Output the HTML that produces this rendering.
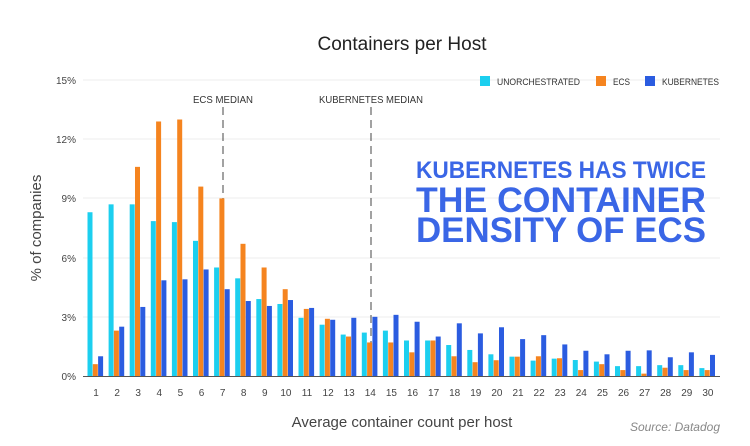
<!DOCTYPE html>
<html><head><meta charset="utf-8"><style>
html,body{margin:0;padding:0;background:#fff}
svg{display:block}
text{font-family:"Liberation Sans",sans-serif}
</style></head><body>
<svg width="750" height="446" viewBox="0 0 750 446" xmlns="http://www.w3.org/2000/svg">
<defs>
<g id="b">
</g>
</defs>
<rect width="750" height="446" fill="#fff"/>
<text x="402" y="50" text-anchor="middle" font-size="19" fill="#222">Containers per Host</text>
<g stroke="#eee" stroke-width="1">
<line x1="83" y1="80" x2="720" y2="80"/><line x1="83" y1="139" x2="720" y2="139"/>
<line x1="83" y1="198" x2="720" y2="198"/><line x1="83" y1="258" x2="720" y2="258"/>
<line x1="83" y1="317" x2="720" y2="317"/>
</g>
<g font-size="10" fill="#444" text-anchor="end">
<text x="76" y="84">15%</text><text x="76" y="143">12%</text><text x="76" y="202">9%</text>
<text x="76" y="262">6%</text><text x="76" y="321">3%</text><text x="76" y="380">0%</text>
</g>
<text transform="translate(41,228) rotate(-90)" text-anchor="middle" font-size="15" fill="#444">% of companies</text>
<g stroke="#444" stroke-width="1" stroke-dasharray="8,5">
<line x1="223" y1="107" x2="223" y2="376"/><line x1="371" y1="107" x2="371" y2="376"/>
</g>
<g font-size="10" fill="#333">
<text x="193" y="103" textLength="60" lengthAdjust="spacingAndGlyphs">ECS MEDIAN</text>
<text x="319" y="103" textLength="104" lengthAdjust="spacingAndGlyphs">KUBERNETES MEDIAN</text>
</g>
<g font-size="9" fill="#333">
<rect x="480" y="76" width="10" height="10" fill="#1ccfef"/><text x="497" y="85" textLength="83" lengthAdjust="spacingAndGlyphs">UNORCHESTRATED</text>
<rect x="596" y="76" width="10" height="10" fill="#f5841f"/><text x="613" y="85" textLength="17" lengthAdjust="spacingAndGlyphs">ECS</text>
<rect x="645" y="76" width="10" height="10" fill="#2b5ce0"/><text x="662" y="85" textLength="57" lengthAdjust="spacingAndGlyphs">KUBERNETES</text>
</g>
<g>
<g transform="translate(96,376) scale(1,-19.73)"><rect x="-8.5" width="5" height="8.3" fill="#1ccfef"/><rect x="-3.2" width="5" height="0.6" fill="#f5841f"/><rect x="2.1" width="5" height="1.0" fill="#2b5ce0"/></g>
<g transform="translate(117.1,376) scale(1,-19.73)"><rect x="-8.5" width="5" height="8.7" fill="#1ccfef"/><rect x="-3.2" width="5" height="2.3" fill="#f5841f"/><rect x="2.1" width="5" height="2.5" fill="#2b5ce0"/></g>
<g transform="translate(138.2,376) scale(1,-19.73)"><rect x="-8.5" width="5" height="8.7" fill="#1ccfef"/><rect x="-3.2" width="5" height="10.6" fill="#f5841f"/><rect x="2.1" width="5" height="3.5" fill="#2b5ce0"/></g>
<g transform="translate(159.3,376) scale(1,-19.73)"><rect x="-8.5" width="5" height="7.85" fill="#1ccfef"/><rect x="-3.2" width="5" height="12.9" fill="#f5841f"/><rect x="2.1" width="5" height="4.85" fill="#2b5ce0"/></g>
<g transform="translate(180.4,376) scale(1,-19.73)"><rect x="-8.5" width="5" height="7.8" fill="#1ccfef"/><rect x="-3.2" width="5" height="13.0" fill="#f5841f"/><rect x="2.1" width="5" height="4.9" fill="#2b5ce0"/></g>
<g transform="translate(201.5,376) scale(1,-19.73)"><rect x="-8.5" width="5" height="6.85" fill="#1ccfef"/><rect x="-3.2" width="5" height="9.6" fill="#f5841f"/><rect x="2.1" width="5" height="5.4" fill="#2b5ce0"/></g>
<g transform="translate(222.6,376) scale(1,-19.73)"><rect x="-8.5" width="5" height="5.5" fill="#1ccfef"/><rect x="-3.2" width="5" height="9.0" fill="#f5841f"/><rect x="2.1" width="5" height="4.4" fill="#2b5ce0"/></g>
<g transform="translate(243.7,376) scale(1,-19.73)"><rect x="-8.5" width="5" height="4.95" fill="#1ccfef"/><rect x="-3.2" width="5" height="6.7" fill="#f5841f"/><rect x="2.1" width="5" height="3.8" fill="#2b5ce0"/></g>
<g transform="translate(264.8,376) scale(1,-19.73)"><rect x="-8.5" width="5" height="3.9" fill="#1ccfef"/><rect x="-3.2" width="5" height="5.5" fill="#f5841f"/><rect x="2.1" width="5" height="3.55" fill="#2b5ce0"/></g>
<g transform="translate(285.9,376) scale(1,-19.73)"><rect x="-8.5" width="5" height="3.65" fill="#1ccfef"/><rect x="-3.2" width="5" height="4.4" fill="#f5841f"/><rect x="2.1" width="5" height="3.85" fill="#2b5ce0"/></g>
<g transform="translate(307,376) scale(1,-19.73)"><rect x="-8.5" width="5" height="2.95" fill="#1ccfef"/><rect x="-3.2" width="5" height="3.4" fill="#f5841f"/><rect x="2.1" width="5" height="3.45" fill="#2b5ce0"/></g>
<g transform="translate(328.1,376) scale(1,-19.73)"><rect x="-8.5" width="5" height="2.6" fill="#1ccfef"/><rect x="-3.2" width="5" height="2.9" fill="#f5841f"/><rect x="2.1" width="5" height="2.85" fill="#2b5ce0"/></g>
<g transform="translate(349.2,376) scale(1,-19.73)"><rect x="-8.5" width="5" height="2.1" fill="#1ccfef"/><rect x="-3.2" width="5" height="2.0" fill="#f5841f"/><rect x="2.1" width="5" height="2.95" fill="#2b5ce0"/></g>
<g transform="translate(370.3,376) scale(1,-19.73)"><rect x="-8.5" width="5" height="2.2" fill="#1ccfef"/><rect x="-3.2" width="5" height="1.7" fill="#f5841f"/><rect x="2.1" width="5" height="3.0" fill="#2b5ce0"/></g>
<g transform="translate(391.4,376) scale(1,-19.73)"><rect x="-8.5" width="5" height="2.3" fill="#1ccfef"/><rect x="-3.2" width="5" height="1.7" fill="#f5841f"/><rect x="2.1" width="5" height="3.1" fill="#2b5ce0"/></g>
<g transform="translate(412.5,376) scale(1,-19.73)"><rect x="-8.5" width="5" height="1.8" fill="#1ccfef"/><rect x="-3.2" width="5" height="1.2" fill="#f5841f"/><rect x="2.1" width="5" height="2.75" fill="#2b5ce0"/></g>
<g transform="translate(433.6,376) scale(1,-19.73)"><rect x="-8.5" width="5" height="1.8" fill="#1ccfef"/><rect x="-3.2" width="5" height="1.8" fill="#f5841f"/><rect x="2.1" width="5" height="2.0" fill="#2b5ce0"/></g>
<g transform="translate(454.7,376) scale(1,-19.73)"><rect x="-8.5" width="5" height="1.57" fill="#1ccfef"/><rect x="-3.2" width="5" height="1.0" fill="#f5841f"/><rect x="2.1" width="5" height="2.67" fill="#2b5ce0"/></g>
<g transform="translate(475.8,376) scale(1,-19.73)"><rect x="-8.5" width="5" height="1.32" fill="#1ccfef"/><rect x="-3.2" width="5" height="0.7" fill="#f5841f"/><rect x="2.1" width="5" height="2.16" fill="#2b5ce0"/></g>
<g transform="translate(496.9,376) scale(1,-19.73)"><rect x="-8.5" width="5" height="1.1" fill="#1ccfef"/><rect x="-3.2" width="5" height="0.8" fill="#f5841f"/><rect x="2.1" width="5" height="2.47" fill="#2b5ce0"/></g>
<g transform="translate(518,376) scale(1,-19.73)"><rect x="-8.5" width="5" height="0.98" fill="#1ccfef"/><rect x="-3.2" width="5" height="0.98" fill="#f5841f"/><rect x="2.1" width="5" height="1.87" fill="#2b5ce0"/></g>
<g transform="translate(539.1,376) scale(1,-19.73)"><rect x="-8.5" width="5" height="0.78" fill="#1ccfef"/><rect x="-3.2" width="5" height="1.0" fill="#f5841f"/><rect x="2.1" width="5" height="2.07" fill="#2b5ce0"/></g>
<g transform="translate(560.2,376) scale(1,-19.73)"><rect x="-8.5" width="5" height="0.88" fill="#1ccfef"/><rect x="-3.2" width="5" height="0.9" fill="#f5841f"/><rect x="2.1" width="5" height="1.6" fill="#2b5ce0"/></g>
<g transform="translate(581.3,376) scale(1,-19.73)"><rect x="-8.5" width="5" height="0.81" fill="#1ccfef"/><rect x="-3.2" width="5" height="0.3" fill="#f5841f"/><rect x="2.1" width="5" height="1.28" fill="#2b5ce0"/></g>
<g transform="translate(602.4,376) scale(1,-19.73)"><rect x="-8.5" width="5" height="0.73" fill="#1ccfef"/><rect x="-3.2" width="5" height="0.6" fill="#f5841f"/><rect x="2.1" width="5" height="1.1" fill="#2b5ce0"/></g>
<g transform="translate(623.5,376) scale(1,-19.73)"><rect x="-8.5" width="5" height="0.5" fill="#1ccfef"/><rect x="-3.2" width="5" height="0.3" fill="#f5841f"/><rect x="2.1" width="5" height="1.28" fill="#2b5ce0"/></g>
<g transform="translate(644.6,376) scale(1,-19.73)"><rect x="-8.5" width="5" height="0.5" fill="#1ccfef"/><rect x="-3.2" width="5" height="0.12" fill="#f5841f"/><rect x="2.1" width="5" height="1.3" fill="#2b5ce0"/></g>
<g transform="translate(665.7,376) scale(1,-19.73)"><rect x="-8.5" width="5" height="0.55" fill="#1ccfef"/><rect x="-3.2" width="5" height="0.42" fill="#f5841f"/><rect x="2.1" width="5" height="0.95" fill="#2b5ce0"/></g>
<g transform="translate(686.8,376) scale(1,-19.73)"><rect x="-8.5" width="5" height="0.55" fill="#1ccfef"/><rect x="-3.2" width="5" height="0.3" fill="#f5841f"/><rect x="2.1" width="5" height="1.2" fill="#2b5ce0"/></g>
<g transform="translate(707.9,376) scale(1,-19.73)"><rect x="-8.5" width="5" height="0.4" fill="#1ccfef"/><rect x="-3.2" width="5" height="0.3" fill="#f5841f"/><rect x="2.1" width="5" height="1.07" fill="#2b5ce0"/></g>
</g>
<line x1="83" y1="376.5" x2="720" y2="376.5" stroke="#555" stroke-width="1"/>
<g font-size="10" fill="#444" text-anchor="middle">
<text x="96" y="396">1</text><text x="117.1" y="396">2</text><text x="138.2" y="396">3</text><text x="159.3" y="396">4</text><text x="180.4" y="396">5</text><text x="201.5" y="396">6</text><text x="222.6" y="396">7</text><text x="243.7" y="396">8</text><text x="264.8" y="396">9</text><text x="285.9" y="396">10</text><text x="307" y="396">11</text><text x="328.1" y="396">12</text><text x="349.2" y="396">13</text><text x="370.3" y="396">14</text><text x="391.4" y="396">15</text><text x="412.5" y="396">16</text><text x="433.6" y="396">17</text><text x="454.7" y="396">18</text><text x="475.8" y="396">19</text><text x="496.9" y="396">20</text><text x="518" y="396">21</text><text x="539.1" y="396">22</text><text x="560.2" y="396">23</text><text x="581.3" y="396">24</text><text x="602.4" y="396">25</text><text x="623.5" y="396">26</text><text x="644.6" y="396">27</text><text x="665.7" y="396">28</text><text x="686.8" y="396">29</text><text x="707.9" y="396">30</text>
</g>
<g font-weight="bold" fill="#3a66e6">
<text x="416" y="178" font-size="24" textLength="290" lengthAdjust="spacingAndGlyphs">KUBERNETES HAS TWICE</text>
<text x="416" y="212" font-size="35" textLength="290" lengthAdjust="spacingAndGlyphs">THE CONTAINER</text>
<text x="416" y="242" font-size="35" textLength="290" lengthAdjust="spacingAndGlyphs">DENSITY OF ECS</text>
</g>
<text x="402" y="427" text-anchor="middle" font-size="15" fill="#444">Average container count per host</text>
<text x="720" y="431" text-anchor="end" font-size="12" font-style="italic" fill="#888">Source: Datadog</text>
</svg>
</body></html>
